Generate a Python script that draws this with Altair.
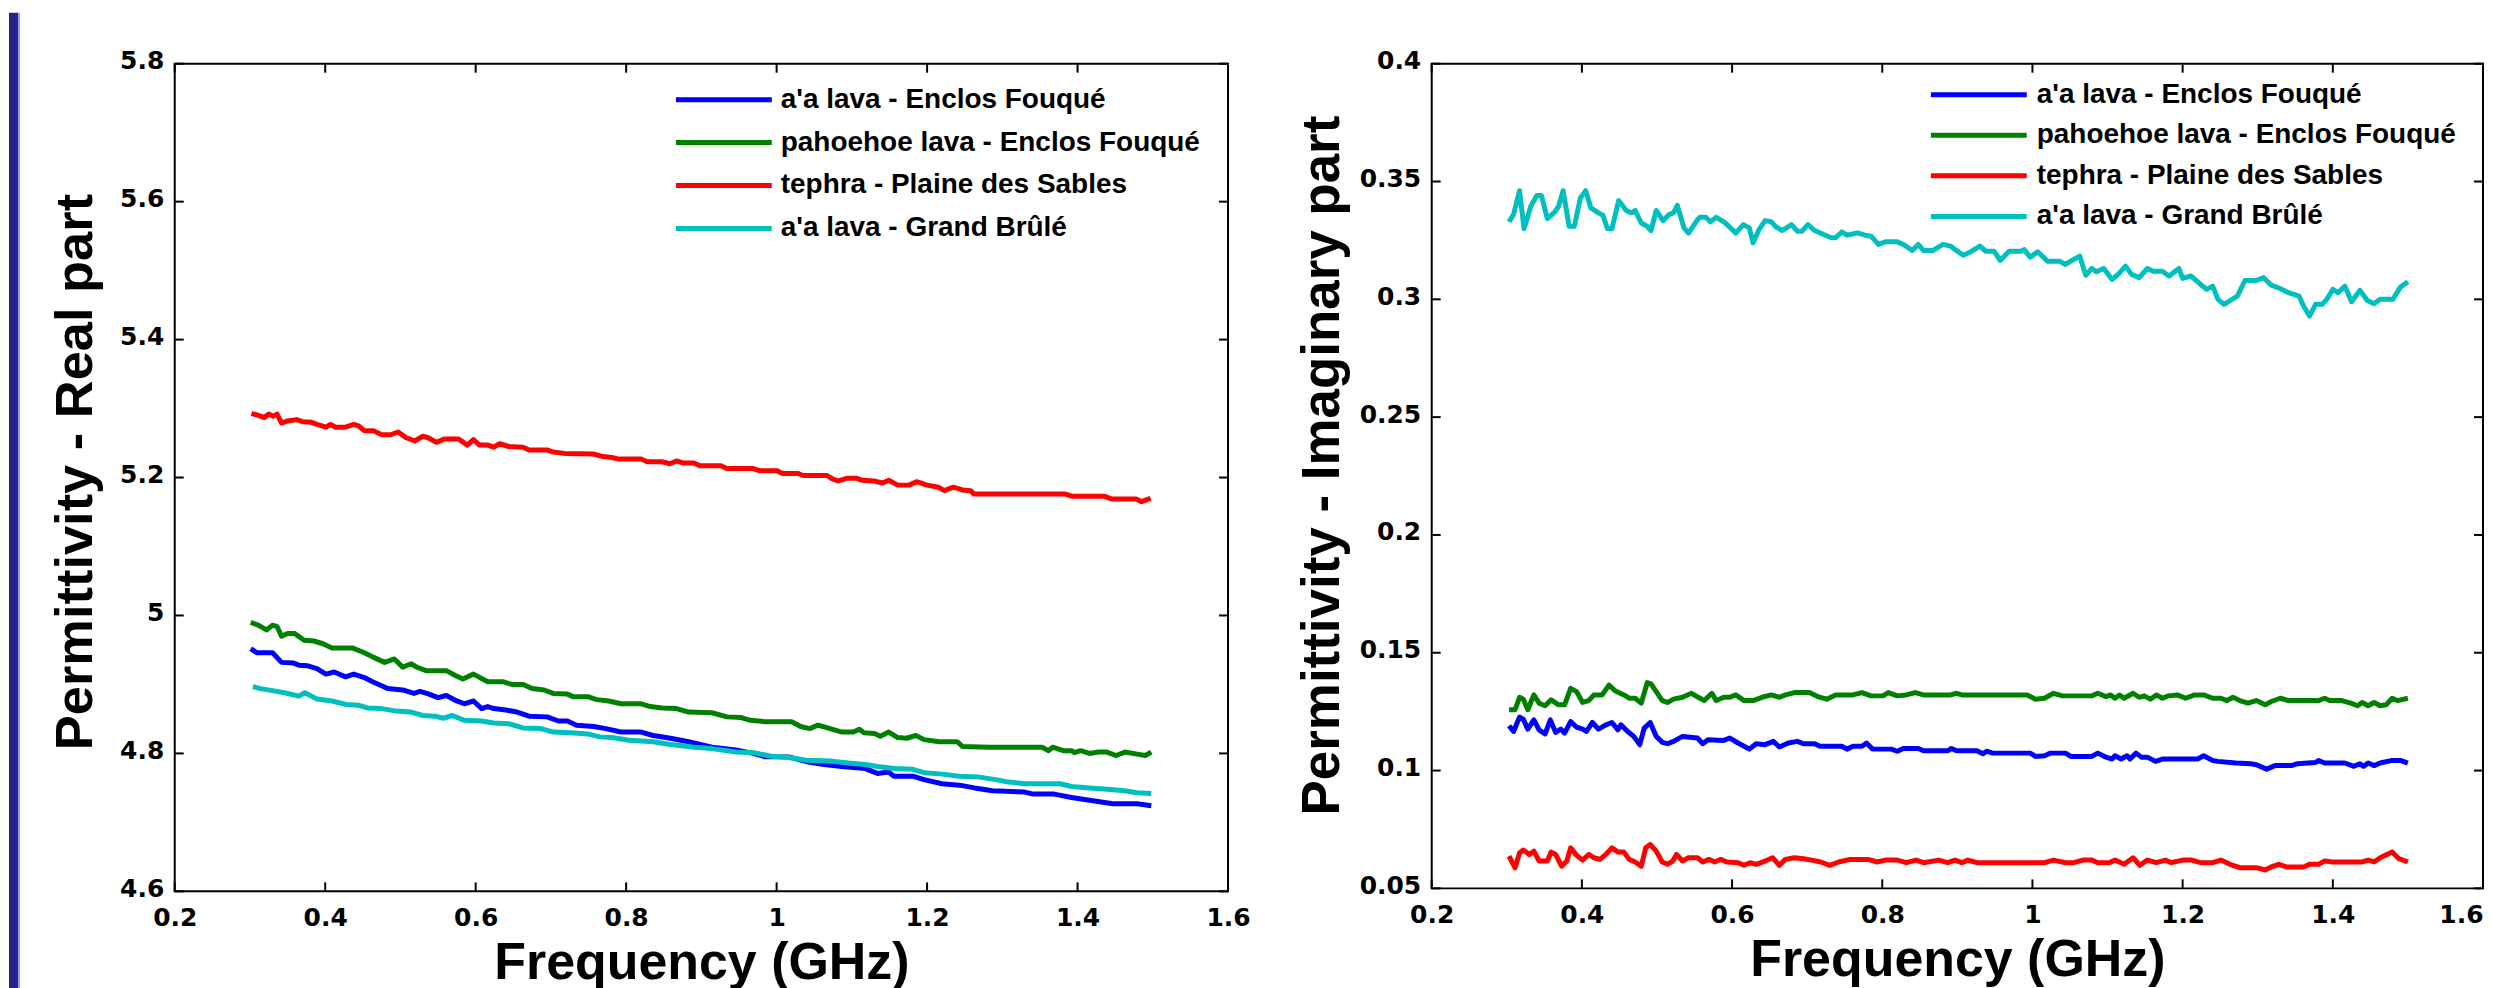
import altair as alt
import pandas as pd

# ---------------- categories / colours ----------------
series_names = ["a'a lava - Enclos Fouqué", "pahoehoe lava - Enclos Fouqué",
                "tephra - Plaine des Sables", "a'a lava - Grand Brûlé"]
series_colors = ["#0000ff", "#008000", "#ff0000", "#00bfbf"]

x_ticks = [0.2, 0.4, 0.6, 0.8, 1.0, 1.2, 1.4, 1.6]
real_ticks = [4.6, 4.8, 5.0, 5.2, 5.4, 5.6, 5.8]
imag_ticks = [0.05, 0.1, 0.15, 0.2, 0.25, 0.3, 0.35, 0.4]

# ---------------- real part: [frequency GHz, permittivity] ----------------
real_aa_enclos = [
    [0.301, 4.952], [0.309, 4.946], [0.330, 4.946], [0.342, 4.932], [0.358, 4.931], [0.365, 4.928],
    [0.377, 4.927], [0.389, 4.923], [0.401, 4.915], [0.412, 4.918], [0.427, 4.911], [0.438, 4.915],
    [0.452, 4.910], [0.463, 4.904], [0.483, 4.894], [0.503, 4.892], [0.518, 4.887], [0.526, 4.890],
    [0.538, 4.886], [0.550, 4.881], [0.561, 4.884], [0.573, 4.877], [0.585, 4.872], [0.597, 4.876],
    [0.608, 4.865], [0.616, 4.868], [0.624, 4.865], [0.640, 4.863], [0.655, 4.860], [0.671, 4.854],
    [0.695, 4.853], [0.710, 4.847], [0.722, 4.847], [0.734, 4.841], [0.757, 4.839], [0.773, 4.836],
    [0.793, 4.831], [0.820, 4.831], [0.836, 4.826], [0.859, 4.822], [0.883, 4.817], [0.914, 4.809],
    [0.946, 4.805], [0.969, 4.800], [0.985, 4.795], [1.016, 4.795], [1.040, 4.788], [1.063, 4.784],
    [1.087, 4.781], [1.118, 4.778], [1.134, 4.771], [1.149, 4.773], [1.156, 4.767], [1.181, 4.767],
    [1.196, 4.762], [1.220, 4.756], [1.243, 4.754], [1.263, 4.750], [1.287, 4.746], [1.330, 4.744],
    [1.341, 4.741], [1.369, 4.741], [1.392, 4.736], [1.416, 4.732], [1.447, 4.727], [1.479, 4.727],
    [1.498, 4.724]]
real_pahoehoe = [
    [0.301, 4.990], [0.311, 4.986], [0.322, 4.979], [0.330, 4.986], [0.336, 4.984], [0.342, 4.970],
    [0.350, 4.974], [0.359, 4.974], [0.372, 4.964], [0.385, 4.963], [0.397, 4.959], [0.409, 4.953],
    [0.436, 4.953], [0.452, 4.946], [0.463, 4.940], [0.479, 4.932], [0.492, 4.937], [0.503, 4.925],
    [0.514, 4.930], [0.522, 4.925], [0.534, 4.920], [0.561, 4.920], [0.573, 4.913], [0.583, 4.908],
    [0.597, 4.915], [0.616, 4.904], [0.636, 4.904], [0.648, 4.900], [0.663, 4.900], [0.675, 4.894],
    [0.691, 4.892], [0.703, 4.887], [0.722, 4.886], [0.730, 4.882], [0.750, 4.882], [0.761, 4.878],
    [0.777, 4.876], [0.793, 4.872], [0.820, 4.872], [0.832, 4.868], [0.848, 4.866], [0.867, 4.865],
    [0.883, 4.860], [0.914, 4.859], [0.934, 4.853], [0.953, 4.852], [0.965, 4.848], [0.985, 4.846],
    [1.020, 4.846], [1.032, 4.839], [1.044, 4.836], [1.055, 4.841], [1.071, 4.836], [1.087, 4.831],
    [1.102, 4.831], [1.110, 4.835], [1.116, 4.830], [1.130, 4.829], [1.138, 4.825], [1.149, 4.831],
    [1.161, 4.823], [1.173, 4.822], [1.185, 4.826], [1.196, 4.820], [1.216, 4.817], [1.240, 4.817],
    [1.247, 4.810], [1.283, 4.809], [1.353, 4.809], [1.361, 4.804], [1.367, 4.809], [1.381, 4.804],
    [1.392, 4.804], [1.396, 4.801], [1.404, 4.804], [1.416, 4.800], [1.428, 4.802], [1.439, 4.802],
    [1.451, 4.797], [1.463, 4.802], [1.479, 4.799], [1.490, 4.797], [1.498, 4.802]]
real_tephra = [
    [0.302, 5.293], [0.311, 5.290], [0.319, 5.287], [0.325, 5.292], [0.331, 5.289], [0.336, 5.292],
    [0.342, 5.279], [0.350, 5.282], [0.362, 5.284], [0.370, 5.281], [0.382, 5.280], [0.389, 5.277],
    [0.401, 5.273], [0.407, 5.277], [0.414, 5.273], [0.427, 5.273], [0.438, 5.277], [0.444, 5.275],
    [0.452, 5.268], [0.464, 5.268], [0.475, 5.262], [0.487, 5.262], [0.497, 5.266], [0.507, 5.258],
    [0.519, 5.253], [0.530, 5.260], [0.538, 5.257], [0.548, 5.251], [0.558, 5.256], [0.577, 5.256],
    [0.589, 5.247], [0.597, 5.255], [0.605, 5.247], [0.616, 5.247], [0.624, 5.244], [0.632, 5.249],
    [0.644, 5.245], [0.663, 5.244], [0.671, 5.240], [0.695, 5.240], [0.703, 5.237], [0.718, 5.235],
    [0.757, 5.234], [0.767, 5.231], [0.781, 5.229], [0.789, 5.227], [0.820, 5.227], [0.828, 5.223],
    [0.847, 5.223], [0.858, 5.220], [0.867, 5.224], [0.876, 5.221], [0.890, 5.221], [0.898, 5.217],
    [0.926, 5.217], [0.934, 5.213], [0.969, 5.213], [0.977, 5.210], [1.000, 5.210], [1.008, 5.206],
    [1.028, 5.206], [1.035, 5.203], [1.067, 5.203], [1.074, 5.198], [1.082, 5.195], [1.094, 5.199],
    [1.106, 5.199], [1.114, 5.196], [1.129, 5.195], [1.141, 5.192], [1.149, 5.196], [1.161, 5.189],
    [1.176, 5.189], [1.186, 5.194], [1.200, 5.189], [1.215, 5.186], [1.223, 5.181], [1.235, 5.186],
    [1.247, 5.182], [1.258, 5.181], [1.262, 5.176], [1.384, 5.176], [1.392, 5.173], [1.435, 5.173],
    [1.445, 5.169], [1.478, 5.169], [1.485, 5.165], [1.497, 5.170]]
real_aa_grand = [
    [0.304, 4.897], [0.314, 4.894], [0.330, 4.891], [0.346, 4.888], [0.365, 4.883], [0.373, 4.888],
    [0.389, 4.879], [0.409, 4.876], [0.428, 4.871], [0.444, 4.870], [0.456, 4.866], [0.475, 4.865],
    [0.491, 4.862], [0.514, 4.860], [0.530, 4.855], [0.546, 4.854], [0.557, 4.851], [0.569, 4.855],
    [0.585, 4.848], [0.608, 4.847], [0.624, 4.844], [0.644, 4.843], [0.663, 4.837], [0.687, 4.836],
    [0.703, 4.831], [0.726, 4.830], [0.750, 4.828], [0.765, 4.824], [0.781, 4.823], [0.804, 4.819],
    [0.836, 4.817], [0.859, 4.813], [0.891, 4.809], [0.914, 4.807], [0.946, 4.802], [0.969, 4.801],
    [0.993, 4.796], [1.016, 4.794], [1.040, 4.790], [1.071, 4.789], [1.095, 4.786], [1.118, 4.784],
    [1.134, 4.781], [1.157, 4.778], [1.181, 4.777], [1.196, 4.772], [1.220, 4.770], [1.243, 4.767],
    [1.267, 4.766], [1.291, 4.762], [1.306, 4.759], [1.330, 4.756], [1.377, 4.756], [1.392, 4.752],
    [1.416, 4.750], [1.439, 4.748], [1.463, 4.746], [1.479, 4.743], [1.498, 4.742]]

# ---------------- imaginary part: [frequency GHz, permittivity] ----------------
imag_aa_enclos = [
    [0.303, 0.1190], [0.309, 0.1166], [0.317, 0.1227], [0.322, 0.1218], [0.328, 0.1176], [0.336, 0.1215],
    [0.343, 0.1173], [0.351, 0.1156], [0.358, 0.1215], [0.365, 0.1162], [0.372, 0.1176], [0.377, 0.1159],
    [0.385, 0.1208], [0.393, 0.1184], [0.401, 0.1176], [0.406, 0.1166], [0.414, 0.1204], [0.422, 0.1176],
    [0.432, 0.1194], [0.440, 0.1204], [0.448, 0.1173], [0.452, 0.1194], [0.461, 0.1166], [0.469, 0.1145],
    [0.477, 0.1110], [0.483, 0.1180], [0.491, 0.1204], [0.499, 0.1145], [0.507, 0.1120], [0.514, 0.1114],
    [0.522, 0.1124], [0.534, 0.1145], [0.554, 0.1138], [0.561, 0.1114], [0.568, 0.1131], [0.589, 0.1128],
    [0.597, 0.1138], [0.608, 0.1117], [0.623, 0.1091], [0.632, 0.1114], [0.644, 0.1110], [0.655, 0.1124],
    [0.663, 0.1100], [0.675, 0.1117], [0.687, 0.1124], [0.695, 0.1114], [0.710, 0.1114], [0.717, 0.1103],
    [0.746, 0.1103], [0.753, 0.1091], [0.761, 0.1103], [0.773, 0.1103], [0.779, 0.1117], [0.787, 0.1091],
    [0.812, 0.1091], [0.820, 0.1082], [0.828, 0.1094], [0.848, 0.1094], [0.855, 0.1084], [0.887, 0.1084],
    [0.892, 0.1094], [0.899, 0.1084], [0.926, 0.1084], [0.934, 0.1071], [0.939, 0.1082], [0.947, 0.1074],
    [0.997, 0.1074], [1.004, 0.1060], [1.016, 0.1063], [1.024, 0.1074], [1.044, 0.1074], [1.051, 0.1060],
    [1.079, 0.1060], [1.087, 0.1074], [1.098, 0.1057], [1.106, 0.1049], [1.110, 0.1063], [1.118, 0.1049],
    [1.126, 0.1063], [1.130, 0.1049], [1.138, 0.1074], [1.145, 0.1057], [1.153, 0.1057], [1.164, 0.1039],
    [1.173, 0.1049], [1.220, 0.1049], [1.228, 0.1063], [1.240, 0.1043], [1.247, 0.1039], [1.271, 0.1032],
    [1.291, 0.1029], [1.298, 0.1025], [1.312, 0.1006], [1.323, 0.1021], [1.345, 0.1021], [1.353, 0.1029],
    [1.377, 0.1034], [1.381, 0.1043], [1.389, 0.1032], [1.416, 0.1032], [1.428, 0.1018], [1.436, 0.1029],
    [1.441, 0.1018], [1.447, 0.1032], [1.455, 0.1021], [1.463, 0.1032], [1.479, 0.1043], [1.490, 0.1043],
    [1.500, 0.1032]]
imag_pahoehoe = [
    [0.303, 0.1258], [0.311, 0.1258], [0.317, 0.1311], [0.322, 0.1303], [0.328, 0.1258], [0.336, 0.1321],
    [0.343, 0.1286], [0.351, 0.1275], [0.359, 0.1300], [0.369, 0.1279], [0.377, 0.1279], [0.385, 0.1349],
    [0.393, 0.1335], [0.401, 0.1289], [0.409, 0.1297], [0.416, 0.1321], [0.427, 0.1321], [0.436, 0.1363],
    [0.444, 0.1339], [0.456, 0.1321], [0.463, 0.1307], [0.471, 0.1307], [0.479, 0.1286], [0.487, 0.1373],
    [0.492, 0.1368], [0.499, 0.1335], [0.507, 0.1297], [0.514, 0.1289], [0.522, 0.1303], [0.534, 0.1311],
    [0.546, 0.1328], [0.555, 0.1311], [0.563, 0.1297], [0.573, 0.1328], [0.579, 0.1297], [0.589, 0.1311],
    [0.597, 0.1311], [0.605, 0.1321], [0.616, 0.1297], [0.628, 0.1297], [0.640, 0.1311], [0.652, 0.1321],
    [0.663, 0.1311], [0.671, 0.1321], [0.683, 0.1331], [0.703, 0.1331], [0.714, 0.1314], [0.726, 0.1303],
    [0.738, 0.1321], [0.761, 0.1321], [0.773, 0.1331], [0.785, 0.1317], [0.801, 0.1317], [0.808, 0.1331],
    [0.820, 0.1317], [0.832, 0.1321], [0.844, 0.1331], [0.855, 0.1321], [0.891, 0.1321], [0.899, 0.1328],
    [0.906, 0.1321], [0.993, 0.1321], [1.004, 0.1303], [1.016, 0.1307], [1.028, 0.1328], [1.040, 0.1317],
    [1.079, 0.1317], [1.087, 0.1328], [1.098, 0.1314], [1.104, 0.1321], [1.110, 0.1307], [1.116, 0.1321],
    [1.122, 0.1307], [1.134, 0.1328], [1.142, 0.1311], [1.149, 0.1317], [1.157, 0.1303], [1.165, 0.1321],
    [1.173, 0.1307], [1.181, 0.1317], [1.193, 0.1321], [1.204, 0.1307], [1.216, 0.1321], [1.228, 0.1321],
    [1.240, 0.1307], [1.251, 0.1307], [1.259, 0.1297], [1.267, 0.1311], [1.276, 0.1297], [1.287, 0.1286],
    [1.298, 0.1297], [1.310, 0.1279], [1.318, 0.1293], [1.330, 0.1307], [1.341, 0.1297], [1.381, 0.1297],
    [1.389, 0.1307], [1.396, 0.1297], [1.412, 0.1297], [1.424, 0.1286], [1.433, 0.1275], [1.439, 0.1289],
    [1.447, 0.1275], [1.455, 0.1289], [1.463, 0.1275], [1.471, 0.1279], [1.479, 0.1307], [1.486, 0.1297],
    [1.500, 0.1307]]
imag_tephra = [
    [0.303, 0.0637], [0.311, 0.0587], [0.317, 0.0651], [0.322, 0.0663], [0.330, 0.0644], [0.336, 0.0658],
    [0.343, 0.0616], [0.354, 0.0616], [0.359, 0.0654], [0.365, 0.0644], [0.373, 0.0594], [0.380, 0.0616],
    [0.385, 0.0672], [0.393, 0.0640], [0.401, 0.0620], [0.409, 0.0644], [0.416, 0.0630], [0.424, 0.0623],
    [0.432, 0.0644], [0.440, 0.0672], [0.448, 0.0654], [0.456, 0.0654], [0.463, 0.0623], [0.471, 0.0612],
    [0.479, 0.0594], [0.485, 0.0672], [0.491, 0.0686], [0.499, 0.0658], [0.507, 0.0612], [0.514, 0.0602],
    [0.521, 0.0616], [0.526, 0.0644], [0.534, 0.0616], [0.542, 0.0630], [0.554, 0.0630], [0.561, 0.0612],
    [0.569, 0.0623], [0.577, 0.0612], [0.585, 0.0623], [0.593, 0.0612], [0.608, 0.0609], [0.616, 0.0598],
    [0.624, 0.0609], [0.632, 0.0602], [0.644, 0.0616], [0.654, 0.0630], [0.663, 0.0598], [0.671, 0.0623],
    [0.683, 0.0630], [0.695, 0.0626], [0.706, 0.0620], [0.718, 0.0612], [0.730, 0.0598], [0.742, 0.0612],
    [0.757, 0.0623], [0.781, 0.0623], [0.793, 0.0612], [0.804, 0.0620], [0.820, 0.0620], [0.832, 0.0609],
    [0.845, 0.0620], [0.855, 0.0609], [0.875, 0.0620], [0.887, 0.0609], [0.897, 0.0620], [0.906, 0.0609],
    [0.914, 0.0620], [0.926, 0.0609], [1.016, 0.0609], [1.028, 0.0620], [1.044, 0.0609], [1.055, 0.0609],
    [1.067, 0.0620], [1.079, 0.0620], [1.087, 0.0609], [1.102, 0.0609], [1.110, 0.0620], [1.122, 0.0602],
    [1.134, 0.0630], [1.143, 0.0598], [1.153, 0.0620], [1.165, 0.0609], [1.177, 0.0620], [1.185, 0.0609],
    [1.200, 0.0620], [1.212, 0.0620], [1.224, 0.0609], [1.240, 0.0609], [1.251, 0.0620], [1.263, 0.0602],
    [1.276, 0.0588], [1.298, 0.0588], [1.310, 0.0578], [1.318, 0.0591], [1.328, 0.0602], [1.338, 0.0591],
    [1.361, 0.0591], [1.369, 0.0602], [1.381, 0.0602], [1.389, 0.0616], [1.400, 0.0612], [1.439, 0.0612],
    [1.447, 0.0620], [1.455, 0.0612], [1.463, 0.0630], [1.479, 0.0654], [1.488, 0.0626], [1.500, 0.0612]]
imag_aa_grand = [
    [0.303, 0.3329], [0.309, 0.3360], [0.317, 0.3461], [0.323, 0.3300], [0.332, 0.3395], [0.340, 0.3441],
    [0.346, 0.3441], [0.354, 0.3343], [0.364, 0.3371], [0.369, 0.3395], [0.375, 0.3461], [0.383, 0.3310],
    [0.390, 0.3310], [0.398, 0.3430], [0.405, 0.3461], [0.412, 0.3388], [0.422, 0.3367], [0.428, 0.3357],
    [0.434, 0.3300], [0.440, 0.3300], [0.449, 0.3419], [0.459, 0.3377], [0.466, 0.3367], [0.471, 0.3377],
    [0.479, 0.3324], [0.487, 0.3310], [0.492, 0.3292], [0.499, 0.3377], [0.508, 0.3334], [0.516, 0.3360],
    [0.522, 0.3367], [0.527, 0.3399], [0.536, 0.3303], [0.542, 0.3281], [0.554, 0.3338], [0.557, 0.3348],
    [0.565, 0.3348], [0.571, 0.3329], [0.579, 0.3348], [0.589, 0.3329], [0.597, 0.3306], [0.605, 0.3281],
    [0.615, 0.3317], [0.623, 0.3303], [0.628, 0.3240], [0.636, 0.3296], [0.644, 0.3334], [0.652, 0.3329],
    [0.659, 0.3306], [0.667, 0.3292], [0.679, 0.3317], [0.687, 0.3289], [0.693, 0.3289], [0.701, 0.3317],
    [0.710, 0.3292], [0.722, 0.3275], [0.732, 0.3261], [0.738, 0.3261], [0.746, 0.3286], [0.753, 0.3272],
    [0.767, 0.3282], [0.777, 0.3272], [0.785, 0.3268], [0.795, 0.3233], [0.804, 0.3244], [0.820, 0.3244],
    [0.828, 0.3233], [0.840, 0.3207], [0.848, 0.3233], [0.855, 0.3207], [0.867, 0.3207], [0.881, 0.3233],
    [0.891, 0.3226], [0.897, 0.3211], [0.908, 0.3187], [0.918, 0.3202], [0.930, 0.3226], [0.938, 0.3204],
    [0.949, 0.3204], [0.957, 0.3165], [0.969, 0.3204], [0.985, 0.3204], [0.989, 0.3211], [0.997, 0.3179],
    [1.007, 0.3202], [1.020, 0.3162], [1.036, 0.3162], [1.044, 0.3148], [1.051, 0.3162], [1.063, 0.3183],
    [1.071, 0.3102], [1.079, 0.3131], [1.085, 0.3117], [1.095, 0.3131], [1.106, 0.3084], [1.114, 0.3106],
    [1.124, 0.3141], [1.132, 0.3106], [1.142, 0.3092], [1.153, 0.3131], [1.161, 0.3119], [1.173, 0.3119],
    [1.182, 0.3099], [1.195, 0.3131], [1.200, 0.3089], [1.211, 0.3099], [1.224, 0.3063], [1.232, 0.3042],
    [1.240, 0.3056], [1.247, 0.3000], [1.255, 0.2979], [1.273, 0.3014], [1.283, 0.3080], [1.298, 0.3080],
    [1.308, 0.3092], [1.318, 0.3060], [1.330, 0.3046], [1.341, 0.3028], [1.355, 0.3014], [1.361, 0.2972],
    [1.369, 0.2929], [1.377, 0.2979], [1.386, 0.2979], [1.392, 0.3000], [1.400, 0.3042], [1.407, 0.3028],
    [1.416, 0.3056], [1.425, 0.2990], [1.436, 0.3038], [1.446, 0.2995], [1.455, 0.2981], [1.463, 0.3000],
    [1.480, 0.3000], [1.490, 0.3052], [1.500, 0.3075]]

real_series = [real_aa_enclos, real_pahoehoe, real_tephra, real_aa_grand]
imag_series = [imag_aa_enclos, imag_pahoehoe, imag_tephra, imag_aa_grand]

LINE_W = 5
TICK_LEN = 9


def build_df(series_list):
    rows = []
    for name, pairs in zip(series_names, series_list):
        for f, v in pairs:
            rows.append({"s": name, "f": f, "v": v})
    return pd.DataFrame(rows)


def panel(series_list, ydom, yticks, ytitle, W, H, leg_x0, leg_x1, leg_tx, leg_y0, leg_y1,
          top_ext, bottom_ext, with_bar, ytitle_pad, ytitle_shift, ytitle_size, last_label_right):
    df = build_df(series_list)
    xscale = alt.Scale(domain=[0.2, 1.6], nice=False, zero=False)
    yscale = alt.Scale(domain=ydom, nice=False, zero=False)
    xaxis_kw = dict(values=x_ticks, format="~g", title="Frequency (GHz)")
    if last_label_right:
        xaxis_kw["labelAlign"] = {"condition": {"test": "datum.value >= 1.59", "value": "right"},
                                  "value": "center"}
    xaxis = alt.Axis(**xaxis_kw)
    color = alt.Color("s:N", scale=alt.Scale(domain=series_names, range=series_colors), legend=None)

    lines = alt.Chart(df).mark_line(strokeWidth=LINE_W, strokeJoin="round").encode(
        x=alt.X("f:Q", scale=xscale, axis=xaxis),
        y=alt.Y("v:Q", scale=yscale, title=ytitle,
                axis=alt.Axis(values=yticks, format="~g", titlePadding=ytitle_pad, labelOffset=-3,
                              titleFontSize=ytitle_size, titleY=H / 2 + ytitle_shift)),
        color=color,
    )

    xt = pd.DataFrame({"f": x_ticks})
    yt = pd.DataFrame({"v": yticks})
    tick_style = dict(color="black", strokeWidth=2)
    t_bottom = alt.Chart(xt).mark_rule(**tick_style).encode(
        x=alt.X("f:Q", scale=xscale, axis=xaxis), y=alt.value(H), y2=alt.value(H - TICK_LEN))
    t_top = alt.Chart(xt).mark_rule(**tick_style).encode(
        x=alt.X("f:Q", scale=xscale, axis=xaxis), y=alt.value(0), y2=alt.value(TICK_LEN))
    t_left = alt.Chart(yt).mark_rule(**tick_style).encode(
        y=alt.Y("v:Q", scale=yscale, axis=None), x=alt.value(0), x2=alt.value(TICK_LEN))
    t_right = alt.Chart(yt).mark_rule(**tick_style).encode(
        y=alt.Y("v:Q", scale=yscale, axis=None), x=alt.value(W - TICK_LEN), x2=alt.value(W))

    leg = pd.DataFrame({"s": series_names})
    leg_y = alt.Y("s:N", scale=alt.Scale(type="point", domain=series_names,
                                         range=[leg_y0, leg_y1], padding=0), axis=None)
    leg_lines = alt.Chart(leg).mark_rule(strokeWidth=LINE_W).encode(
        x=alt.value(leg_x0), x2=alt.value(leg_x1), y=leg_y, color=color)
    leg_text = alt.Chart(leg).mark_text(
        align="left", baseline="middle", font="Liberation Sans", fontWeight="bold",
        fontSize=28, color="black").encode(x=alt.value(leg_tx), y=leg_y, text="s:N")

    one = pd.DataFrame({"k": [0]})
    layers = [lines, t_bottom, t_top, t_left, t_right, leg_lines, leg_text]
    if with_bar:
        bar = alt.Chart(one).mark_rect(color="#23218a").encode(
            x=alt.value(-166), x2=alt.value(-157), y=alt.value(-top_ext), y2=alt.value(H + bottom_ext))
        bar_edge = alt.Chart(one).mark_rect(color="#9a9ad2").encode(
            x=alt.value(-157), x2=alt.value(-155), y=alt.value(-top_ext), y2=alt.value(H + bottom_ext))
        layers += [bar, bar_edge]
    else:
        spacer = alt.Chart(one).mark_rect(opacity=0).encode(
            x=alt.value(0), x2=alt.value(1), y=alt.value(-top_ext), y2=alt.value(-top_ext + 1))
        layers += [spacer]

    return alt.layer(*layers).resolve_scale(y="independent").properties(width=W, height=H)


left = panel(real_series, [4.6, 5.8], real_ticks, "Permittivity - Real part",
             1055, 829, 502, 598, 607, 36, 165, 51, 100, True, 17, -6, 52.5, False)
right = panel(imag_series, [0.05, 0.4], imag_ticks, "Permittivity - Imaginary part",
              1053, 826, 500, 596, 606, 31, 153, 54, 0, False, 10, -11, 53, True)

chart = (
    alt.hconcat(left, right, spacing=43)
    .properties(padding={"left": 0, "top": 0, "right": 0, "bottom": 0}, background="white")
    .configure_view(stroke="black", strokeWidth=2)
    .configure_axis(
        labelFont="DejaVu Sans", labelFontSize=25, labelFontWeight="bold", labelColor="black",
        titleFont="Liberation Sans", titleFontSize=52, titleFontWeight="bold", titleColor="black",
        domain=False, ticks=False, tickSize=0, grid=False, labelFlush=False, labelOverlap=False,
    )
    .configure_axisX(labelPadding=14, titlePadding=7)
    .configure_axisY(labelPadding=11)
)

chart.save("out.html", embed_options={"renderer": "svg", "actions": False})
